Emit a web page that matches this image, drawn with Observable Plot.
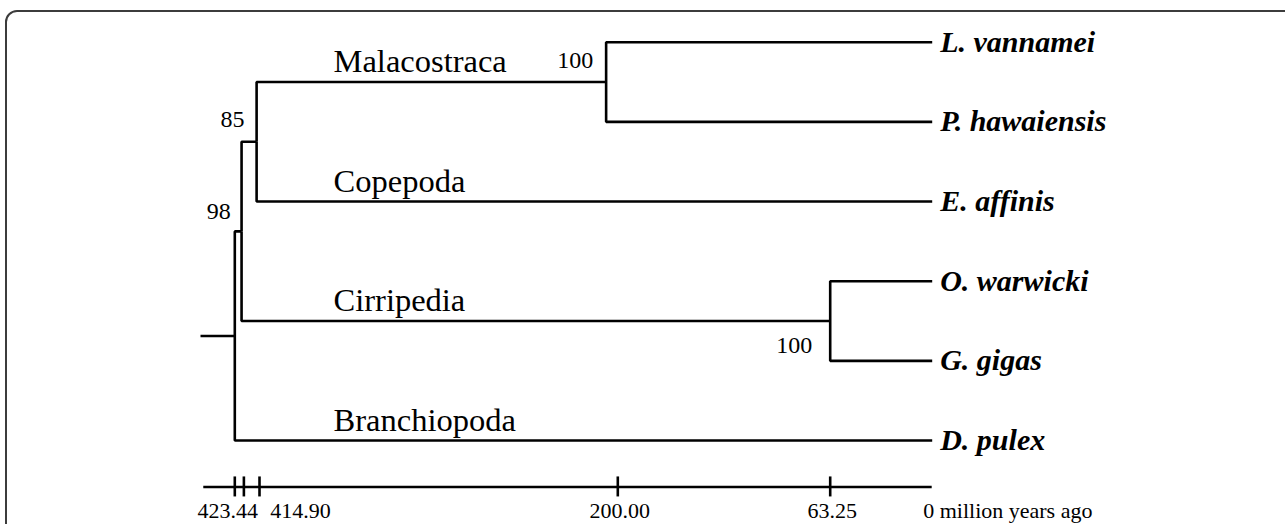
<!DOCTYPE html>
<html><head><meta charset="utf-8">
<script src="https://cdn.jsdelivr.net/npm/d3@7"></script>
<script src="https://cdn.jsdelivr.net/npm/@observablehq/plot@0.6"></script>
<style>
html,body{margin:0;padding:0;background:#fff;overflow:hidden;width:1285px;height:524px}
#chart{position:absolute;left:0;top:0}
#frame{position:absolute;left:5px;top:10px;width:1400px;height:700px;border:2px solid #3c3c3c;border-radius:12px;pointer-events:none}
</style></head><body>
<div id="chart"></div><div id="frame"></div>
<script>
// ---- data ----
const nodeIds     = ["root", "n1", "n2", "mal", "cir", "Lv", "Ph", "Ea", "Ow", "Gg", "Dp"];
const nodeParents = [null, "root", "n1", "n2", "n1", "mal", "mal", "n2", "cir", "cir", "root"];
const nodeAges    = [423.44, 421.1, 415.9, 207.0, 63.25, 0, 0, 0, 0, 0, 0];
const leafIds   = ["Lv", "Ph", "Ea", "Ow", "Gg", "Dp"];
const leafNames = ["L. vannamei", "P. hawaiensis", "E. affinis", "O. warwicki", "G. gigas", "D. pulex"];
const cladeNames    = ["Malacostraca", "Copepoda", "Cirripedia", "Branchiopoda"];
const cladeBranches = ["mal", "Ea", "cir", "Dp"];
const bootNodes  = ["n1", "n2", "mal", "cir"];
const bootValues = [98, 85, 100, 100];
const rootStubAge  = 436;
const axisStartAge = 434.8;
const tickAges   = [423.44, 420.3, 414.90, 200.00, 63.25];
const tickLabels = ["423.44", "", "414.90", "200.00", "63.25"];
const axisEndLabel = "0 million years ago";

// ---- tree layout (rows) ----
const nodes = nodeIds.map((id, i) => ({id, parent: nodeParents[i], age: nodeAges[i]}));
const byId = new Map(nodes.map(n => [n.id, n]));
nodes.forEach(n => n.children = nodes.filter(c => c.parent === n.id));
function setRow(n) {
  const li = leafIds.indexOf(n.id);
  if (li >= 0) { n.row = li; return n.row; }
  const rows = n.children.map(setRow);
  n.row = (d3.min(rows) + d3.max(rows)) / 2;
  return n.row;
}
setRow(byId.get("root"));
const root = byId.get("root");
const links = nodes.filter(n => n.parent).map(n => ({
  x1: byId.get(n.parent).age, y1: byId.get(n.parent).row, x2: n.age, y2: n.row
}));
links.push({x1: rootStubAge, y1: root.row, x2: root.age, y2: root.row});

const leaves = leafIds.map((id, i) => ({age: byId.get(id).age, row: byId.get(id).row, name: leafNames[i]}));
const clades = cladeNames.map((name, i) => ({name, row: byId.get(cladeBranches[i]).row}));
const boots = bootNodes.map((id, i) => {
  const n = byId.get(id);
  return {id, value: String(bootValues[i]), age: n.age, parentAge: byId.get(n.parent).age, row: n.row};
});
const axisRow = 5.583;
const ticks = tickAges.map((a, i) => ({age: a, label: tickLabels[i]}));

const font = "'Liberation Serif', 'Times New Roman', serif";
const lw = 2.6;

const chart = Plot.plot({
  width: 1285, height: 524,
  margin: 0,
  style: {fontFamily: font, background: "#fff", color: "#000"},
  x: {type: "linear", domain: [436, 423.44, 414.90, 200, 63.25, 0], range: [200, 234.3, 259, 617.3, 829.7, 931.7], axis: null},
  y: {type: "linear", domain: [0, 5], range: [41.7, 440], axis: null},
  marks: [
    Plot.link(links, {x1: "x1", y1: "y1", x2: "x2", y2: "y2", curve: "step-before", stroke: "#000", strokeWidth: lw, strokeLinejoin: "miter", strokeLinecap: "butt"}),
    // leaf labels
    Plot.text(leaves, {x: "age", y: "row", text: "name", textAnchor: "start", dx: 8, fontSize: 30, fontWeight: "bold", fontStyle: "italic", fill: "#000"}),
    // clade labels
    Plot.text(clades, {x: 370.5, y: "row", text: "name", textAnchor: "start", lineAnchor: "bottom", dy: -10, fontSize: 32.5, fill: "#000"}),
    // bootstrap values
    Plot.text(boots.filter(d => d.id === "n1"), {x: "parentAge", y: "row", text: "value", textAnchor: "end", dx: -4, dy: -20, fontSize: 24, fill: "#000"}),
    Plot.text(boots.filter(d => d.id === "n2"), {x: "parentAge", y: "row", text: "value", textAnchor: "end", dx: 3, dy: -22, fontSize: 24, fill: "#000"}),
    Plot.text(boots.filter(d => d.id === "mal"), {x: "age", y: "row", text: "value", textAnchor: "end", dx: -13, dy: -22, fontSize: 24, fill: "#000"}),
    Plot.text(boots.filter(d => d.id === "cir"), {x: "age", y: "row", text: "value", textAnchor: "end", dx: -18, dy: 24, fontSize: 24, fill: "#000"}),
    // time axis
    Plot.ruleY([axisRow], {y: d => d, x1: axisStartAge, x2: 0, stroke: "#000", strokeWidth: lw}),
    Plot.ruleX(ticks, {x: "age", y1: axisRow, y2: axisRow, insetTop: -10, insetBottom: -10, stroke: "#000", strokeWidth: lw}),
    Plot.text(ticks.filter(d => d.label === "423.44"), {x: "age", y: axisRow, text: "label", dx: -7, dy: 24, fontSize: 22, fill: "#000"}),
    Plot.text(ticks.filter(d => d.label === "414.90"), {x: "age", y: axisRow, text: "label", dx: 41, dy: 24, fontSize: 22, fill: "#000"}),
    Plot.text(ticks.filter(d => d.label === "200.00" || d.label === "63.25"), {x: "age", y: axisRow, text: "label", dx: 2, dy: 24, fontSize: 22, fill: "#000"}),
    Plot.text([axisEndLabel], {x: 0, y: axisRow, text: d => d, textAnchor: "start", dx: -9, dy: 24, fontSize: 22, fill: "#000"})
  ]
});
document.getElementById("chart").appendChild(chart);
</script>
</body></html>
